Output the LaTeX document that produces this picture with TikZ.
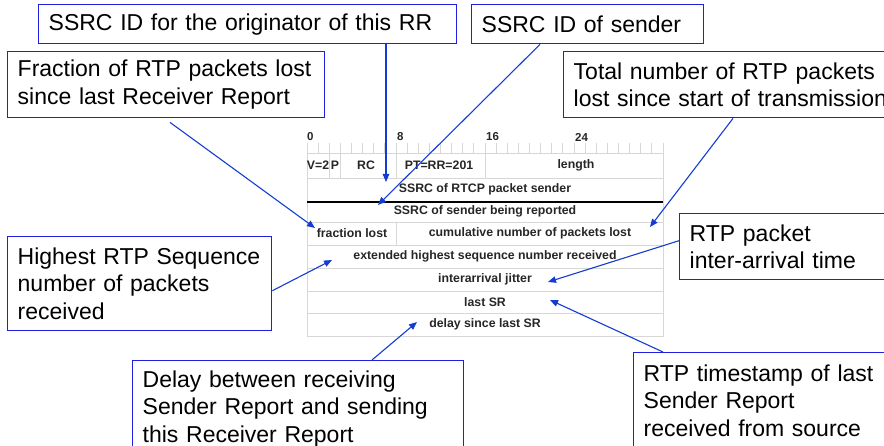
\documentclass[tikz,border=0pt]{standalone}
\usepackage{fontspec}
\setmainfont{Liberation Sans}
\usetikzlibrary{arrows.meta,calc}
\definecolor{boxblue}{RGB}{30,30,230}
\definecolor{linkblue}{RGB}{20,60,210}
\definecolor{gridgray}{RGB}{215,215,215}
\newcommand{\bigtxt}{\fontsize{23}{27.6}\selectfont}
\newcommand{\fieldtxt}{\fontsize{12.3}{14}\selectfont\bfseries}
\begin{document}
\begin{tikzpicture}[x=1pt,y=-1pt,
  callout/.style={draw=boxblue, line width=1.4pt, anchor=north west, inner xsep=10pt, inner ysep=0pt, align=left, font=\bigtxt, text=black},
  field/.style={font=\fieldtxt, text=black!85, inner sep=0pt, anchor=center},
  bitnum/.style={font=\fontsize{11.5}{13}\selectfont\bfseries, text=black!85, inner sep=0pt, anchor=west},
  grid/.style={draw=gridgray, line width=0.8pt},
  link/.style={draw=linkblue, line width=1.1pt, -{Triangle[length=8pt,width=6.5pt]}}]
\useasboundingbox (0,0) rectangle (884,446);
\clip (0,0) rectangle (884,446);

% ---------- packet diagram ----------
\foreach \k in {0,...,32} {
  \draw[grid] ({307+11.125*\k},143) -- ({307+11.125*\k},153);
}
\draw[grid] (307,153) rectangle (663,336);
\foreach \yy in {178,222,245,268,291,313} {
  \draw[grid] (307,\yy) -- (663,\yy);
}
\draw[grid] (329,153) -- (329,178);
\draw[grid] (340,153) -- (340,178);
\draw[grid] (396,153) -- (396,178);
\draw[grid] (485,153) -- (485,178);
\draw[grid] (396,222) -- (396,245);
\draw[black, line width=1.6pt] (307,202) -- (663,202);

\node[bitnum] (n0) at (307,137) {0};
\node[bitnum] (n8) at (397,137) {8};
\node[bitnum] (n16) at (486,137) {16};
\node[bitnum] (n24) at (575,137) {24};

\node[field] (fv) at (318,165) {V=2};
\node[field] (fp) at (335,165) {P};
\node[field] (frc) at (366,165) {RC};
\node[field] (fpt) at (439,165) {PT=RR=201};
\node[field] (flen) at (576,165) {length};
\node[field] (fssrc) at (485,189) {SSRC of RTCP packet sender};
\node[field] (frep) at (485,211) {SSRC of sender being reported};
\node[field] (ffrac) at (352,233) {fraction lost};
\node[field] (fcum) at (530,233) {cumulative number of packets lost};
\node[field] (fext) at (485,256) {extended highest sequence number received};
\node[field] (fjit) at (485,279) {interarrival jitter};
\node[field] (flsr) at (485,302) {last SR};
\node[field] (fdlsr) at (485,324) {delay since last SR};

% ---------- callouts ----------
\node[callout, text width=398pt, minimum height=39pt] (b1) at (38,4) {SSRC ID for the originator of this RR};
\node[callout, text width=212pt, minimum height=39pt] (b2) at (471,4) {SSRC ID of sender};
\node[callout, text width=297pt, minimum height=66pt] (b3) at (7,51) {Fraction of RTP packets lost\\since last Receiver Report};
\node[callout, text width=330pt, minimum height=66pt] (b4) at (563,51) {Total number of RTP packets\\lost since start of transmission};
\node[callout, text width=244pt, minimum height=94pt] (b5) at (7,236) {Highest RTP Sequence\\number of packets\\received};
\node[callout, text width=230pt, minimum height=66pt] (b6) at (679,213) {RTP packet\\inter-arrival time};
\node[callout, text width=311pt, minimum height=96pt] (b7) at (132,360) {Delay between receiving\\Sender Report and sending\\this Receiver Report};
\node[callout, text width=260pt, minimum height=96pt] (b8) at (633,352) {RTP timestamp of last\\Sender Report\\received from source};

% ---------- arrow targets ----------
\coordinate (t1) at (386,182);
\coordinate (t2) at (378,205);
\coordinate (t3) at (315,228);
\coordinate (t4) at (650,227);
\coordinate (t5) at (332,260);
\coordinate (t6) at (548,282);
\coordinate (t7) at (417,322);
\coordinate (t8) at (550,300);

% ---------- connectors ----------
\draw[link] (b1.south west -| t1) -- (t1);
\draw[link] ([xshift=69pt]b2.south west) -- (t2);
\draw[link] ([xshift=163pt,yshift=-4pt]b3.south west) -- (t3);
\draw[link] ([xshift=170pt]b4.south west) -- (t4);
\draw[link] ([yshift=-7pt]b5.east) -- (t5);
\draw[link] ([yshift=6pt]b6.west) -- (t6);
\draw[link] ([xshift=240pt]b7.north west) -- (t7);
\draw[link] ([xshift=30pt]b8.north west) -- (t8);
\end{tikzpicture}
\end{document}
